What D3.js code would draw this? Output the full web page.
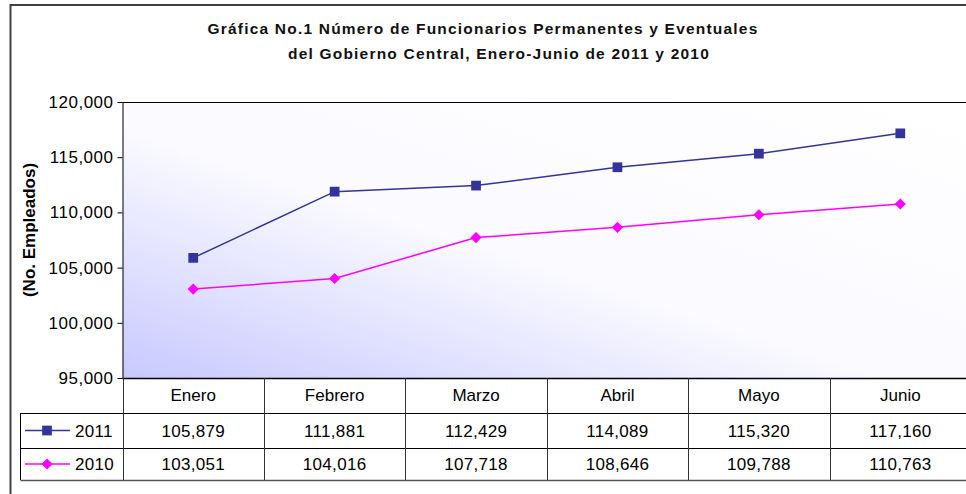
<!DOCTYPE html>
<html>
<head>
<meta charset="utf-8">
<script src="https://cdn.jsdelivr.net/npm/d3@7"></script>
<style>
  body { margin: 0; background: #fff; }
  svg { display: block; font-family: "Liberation Sans", Arial, sans-serif; }
</style>
</head>
<body>
<svg id="chart" width="966" height="494"></svg>
<script>
const months = ['Enero', 'Febrero', 'Marzo', 'Abril', 'Mayo', 'Junio']
const values2011 = [105879, 111881, 112429, 114089, 115320, 117160]
const values2010 = [103051, 104016, 107718, 108646, 109788, 110763]
const yTicks = [95000, 100000, 105000, 110000, 115000, 120000]

const series = [
    { name: '2011', values: values2011, color: '#333399', marker: d3.symbolSquare, size: 95, rot: 0 },
    { name: '2010', values: values2010, color: '#ff00ff', marker: d3.symbolSquare, size: 62, rot: 45 }
]

const svg = d3.select('#chart')
const fmt = d3.format(',')

const x = d3.scaleBand().domain(months).range([122.5, 971])
const y = d3.scaleLinear().domain([95000, 120000]).range([378, 102])

// background gradient of the plot area
const defs = svg.append('defs')
const grad = defs.append('linearGradient')
    .attr('id', 'bg').attr('x1', 0).attr('y1', 1).attr('x2', 1).attr('y2', 0)
grad.append('stop').attr('offset', '0%').attr('stop-color', '#c8c8ff')
grad.append('stop').attr('offset', '45%').attr('stop-color', '#fafaff')
grad.append('stop').attr('offset', '100%').attr('stop-color', '#ffffff')

// outer frame
svg.append('rect')
    .attr('x', 10.5).attr('y', 5).attr('width', 1000).attr('height', 520)
    .attr('fill', 'none').attr('stroke', '#404040').attr('stroke-width', 2)

// title
const title = svg.append('text')
    .attr('text-anchor', 'middle')
    .attr('font-weight', 'bold').attr('font-size', 15.5).attr('fill', '#111')
    .attr('letter-spacing', 1.2)
title.append('tspan').attr('x', 483).attr('y', 34)
    .text('Gráfica No.1  Número de Funcionarios Permanentes y Eventuales')
title.append('tspan').attr('x', 499).attr('y', 59)
    .text('del Gobierno Central, Enero-Junio de 2011 y 2010')

// plot area
svg.append('rect')
    .attr('x', x.range()[0]).attr('y', y(120000))
    .attr('width', x.range()[1] - x.range()[0]).attr('height', y(95000) - y(120000))
    .attr('fill', 'url(#bg)')
svg.append('line')
    .attr('x1', x.range()[0]).attr('x2', 966)
    .attr('y1', y(120000) + 0.5).attr('y2', y(120000) + 0.5)
    .attr('stroke', '#000')

// y axis
const yAxis = svg.append('g')
    .attr('transform', `translate(${x.range()[0]},0)`)
    .call(d3.axisLeft(y).tickValues(yTicks).tickFormat(fmt).tickSize(5).tickSizeOuter(0))
yAxis.select('.domain').attr('stroke', '#000')
yAxis.selectAll('text').attr('font-size', 17).attr('fill', '#000')
    .attr('letter-spacing', 0.5).attr('dx', -1)
yAxis.attr('font-family', null)

svg.append('text')
    .attr('transform', 'translate(35,230) rotate(-90)')
    .attr('text-anchor', 'middle')
    .attr('font-weight', 'bold').attr('font-size', 17)
    .text('(No. Empleados)')

// lines and markers
const line = d3.line()
    .x((d, i) => x(months[i]) + x.bandwidth() / 2)
    .y(d => y(d))

series.forEach(s => {
    svg.append('path')
        .datum(s.values)
        .attr('d', line)
        .attr('fill', 'none')
        .attr('stroke', s.color)
        .attr('stroke-width', 1.5)
    svg.append('g').selectAll('path')
        .data(s.values)
        .join('path')
        .attr('d', d3.symbol().type(s.marker).size(s.size))
        .attr('transform', (d, i) => `translate(${x(months[i]) + x.bandwidth() / 2},${y(d)}) rotate(${s.rot})`)
        .attr('fill', s.color)
})

// data table
const rowTop = 378, rowH = [35, 35, 32]
const rowY = [rowTop, rowTop + rowH[0], rowTop + rowH[0] + rowH[1], rowTop + rowH[0] + rowH[1] + rowH[2]]
const legendLeft = 20.5
const table = svg.append('g')

table.append('line')
    .attr('x1', x.range()[0]).attr('x2', 966)
    .attr('y1', rowY[0] + 0.5).attr('y2', rowY[0] + 0.5)
    .attr('stroke', '#000').attr('stroke-width', 1.5)
;[rowY[1], rowY[2]].forEach(yy => {
    table.append('line')
        .attr('x1', legendLeft).attr('x2', 966)
        .attr('y1', yy + 0.5).attr('y2', yy + 0.5)
        .attr('stroke', '#000')
})
table.append('line')
    .attr('x1', legendLeft).attr('x2', 966)
    .attr('y1', rowY[3] + 0.5).attr('y2', rowY[3] + 0.5)
    .attr('stroke', '#555').attr('stroke-width', 1.5)
table.append('line')
    .attr('x1', legendLeft).attr('x2', legendLeft)
    .attr('y1', rowY[1]).attr('y2', rowY[3])
    .attr('stroke', '#000')
months.forEach(m => {
    table.append('line')
        .attr('x1', Math.round(x(m)) + 0.5).attr('x2', Math.round(x(m)) + 0.5)
        .attr('y1', rowY[0]).attr('y2', rowY[3])
        .attr('stroke', '#333')
})

table.selectAll('text.month')
    .data(months)
    .join('text')
    .attr('class', 'month')
    .attr('x', d => x(d) + x.bandwidth() / 2)
    .attr('y', rowY[0] + 23)
    .attr('text-anchor', 'middle')
    .attr('font-size', 17)
    .text(d => d)

series.forEach((s, r) => {
    const yy = rowY[r + 1]
    const cy = yy + rowH[r + 1] / 2
    table.append('line')
        .attr('x1', 25).attr('x2', 70).attr('y1', cy).attr('y2', cy)
        .attr('stroke', s.color).attr('stroke-width', 1.5)
    table.append('path')
        .attr('d', d3.symbol().type(s.marker).size(s.size))
        .attr('transform', `translate(47,${cy}) rotate(${s.rot})`)
        .attr('fill', s.color)
    table.append('text')
        .attr('x', 75).attr('y', cy + 6)
        .attr('font-size', 17).attr('letter-spacing', 0.3)
        .text(s.name)
    table.append('g').selectAll('text')
        .data(s.values)
        .join('text')
        .attr('x', (d, i) => x(months[i]) + x.bandwidth() / 2)
        .attr('y', cy + 6)
        .attr('text-anchor', 'middle')
        .attr('font-size', 17).attr('letter-spacing', 0.3)
        .text(d => fmt(d))
})
</script>
</body>
</html>
